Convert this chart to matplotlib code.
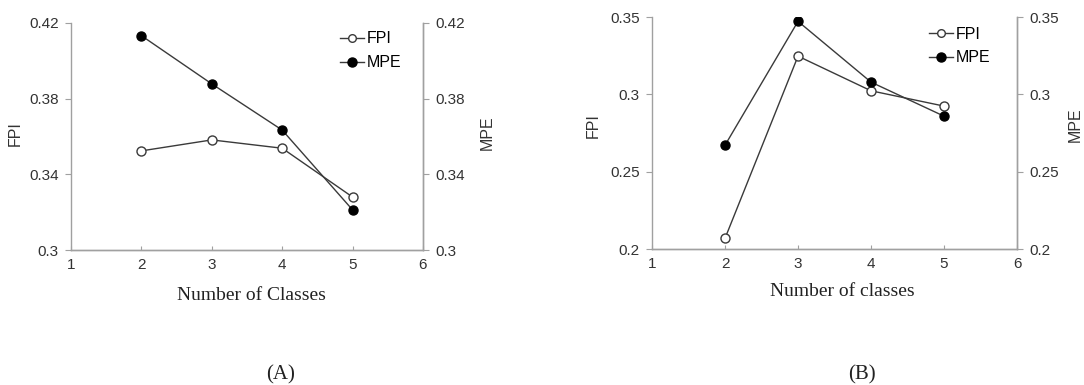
import matplotlib.pyplot as plt
from matplotlib.lines import Line2D

# panel data
classes = [2, 3, 4, 5]
fpi_a = [0.3524, 0.3582, 0.3538, 0.3280]
mpe_a = [0.4133, 0.3878, 0.3634, 0.3212]
fpi_b = [0.2069, 0.3247, 0.3023, 0.2924]
mpe_b = [0.2671, 0.3472, 0.3079, 0.2859]

yticks_a = [0.3, 0.34, 0.38, 0.42]
ytick_labels_a = ['0.3', '0.34', '0.38', '0.42']
yticks_b = [0.2, 0.25, 0.3, 0.35]
ytick_labels_b = ['0.2', '0.25', '0.3', '0.35']
xticks = [1, 2, 3, 4, 5, 6]

line_col = '#3a3a3a'
axis_col = '#a0a0a0'
text_col = '#333333'
sans = ['Liberation Sans', 'DejaVu Sans']
serif = ['Liberation Serif', 'DejaVu Serif']

fig = plt.figure(figsize=(10.84, 3.85), dpi=100)


def panel(rect, fpi, mpe, yticks, ylabels, xlabel, xlabel_xy, tag, tag_x, leg_xy, lab_x):
    ax = fig.add_axes(rect)
    ax2 = ax.twinx()
    for a in (ax, ax2):
        a.set_ylim(yticks[0], yticks[-1])
        a.set_yticks(yticks)
        a.set_yticklabels(ylabels, family=sans, fontsize=11, color=text_col)
        a.spines['top'].set_visible(False)
        for s in ('left', 'right', 'bottom'):
            a.spines[s].set_color(axis_col)
            a.spines[s].set_linewidth(1.0)
        a.tick_params(axis='y', color=axis_col, length=4, pad=5)
    ax.set_xlim(1, 6)
    ax.set_xticks(xticks)
    ax.set_xticklabels([str(x) for x in xticks], family=sans, fontsize=11, color=text_col)
    ax.tick_params(axis='x', color=axis_col, direction='in', length=3, pad=6)
    ax2.spines['left'].set_visible(False)

    ax.plot(classes, fpi, color=line_col, lw=1.0, marker='o', ms=6.5,
            mfc='white', mec=line_col, mew=1.0, zorder=3)
    ax2.plot(classes, mpe, color=line_col, lw=1.0, marker='o', ms=6.5,
             mfc='black', mec='black', zorder=3)

    ax.set_ylabel('FPI', family=sans, fontsize=11.5, color=text_col)
    ax2.set_ylabel('MPE', family=sans, fontsize=11.5, color=text_col)
    ax.yaxis.set_label_coords(lab_x[0], lab_x[2])
    ax2.yaxis.set_label_coords(lab_x[1], lab_x[2])
    fig.text(xlabel_xy[0], xlabel_xy[1], xlabel, family=serif, fontsize=14,
             ha='center', va='center', color='#222222')

    handles = [
        Line2D([], [], color=line_col, lw=1.0, marker='o', ms=5.5, mfc='white', mec=line_col),
        Line2D([], [], color=line_col, lw=1.0, marker='o', ms=6.5, mfc='black', mec='black'),
    ]
    fig.legend(handles, ['FPI', 'MPE'], loc='upper left', bbox_to_anchor=leg_xy,
               bbox_transform=fig.transFigure, frameon=False, borderpad=0,
               borderaxespad=0, handlelength=1.5, handletextpad=0.2,
               labelspacing=0.55, prop={'family': sans, 'size': 11.5})
    fig.text(tag_x, 0.026, tag, family=serif, fontsize=15,
             ha='center', va='center', color='#222222')
    return ax


panel([0.0655, 0.3506, 0.3247, 0.5897], fpi_a, mpe_a, yticks_a, ytick_labels_a,
      'Number of Classes', (0.2316, 0.2312), '(A)', 0.2592, (0.3137, 0.9182),
      (-0.136, 1.162, 0.515))
panel([0.6015, 0.3532, 0.3367, 0.6026], fpi_b, mpe_b, yticks_b, ytick_labels_b,
      'Number of classes', (0.7768, 0.2416), '(B)', 0.7952, (0.857, 0.931),
      (-0.140, 1.140, 0.534))

fig.savefig('out.png', dpi=100)
